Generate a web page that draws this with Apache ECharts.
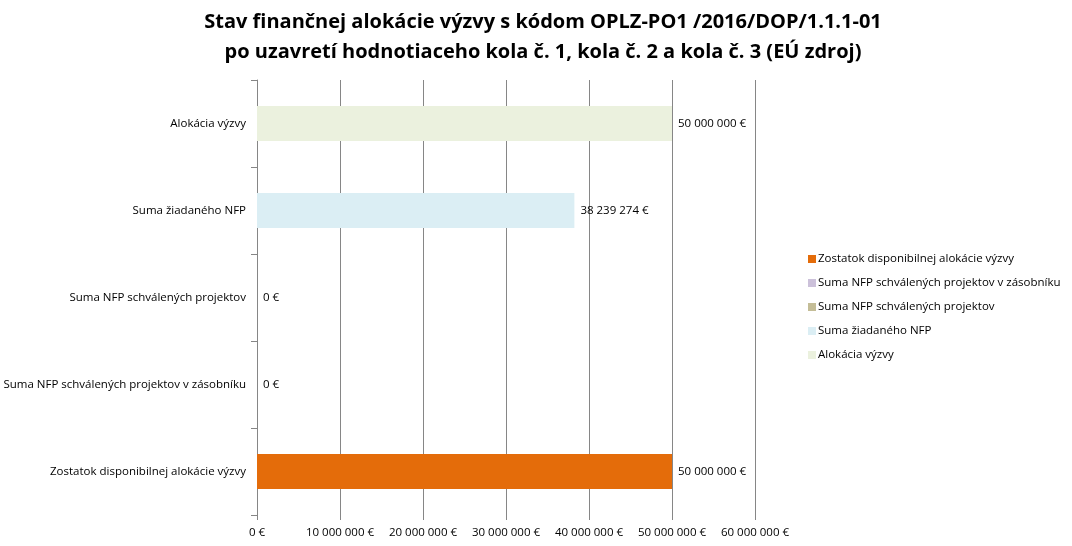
<!DOCTYPE html>
<html><head><meta charset="utf-8">
<script src="https://cdn.jsdelivr.net/npm/echarts@6/dist/echarts.min.js"></script>
<style>html,body{margin:0;padding:0;background:#fff}#c{width:1072px;height:546px}</style>
</head><body><div id="c"></div>
<script>
const categories = ['Alokácia výzvy','Suma žiadaného NFP','Suma NFP schválených projektov','Suma NFP schválených projektov v zásobníku','Zostatok disponibilnej alokácie výzvy'];
const values = [50000000, 38239274, 0, 0, 50000000];
const colors = ['#EBF1DE','#DBEEF4','#C4BD97','#CCC1DA','#E46C0A'];
const xTicks = [0,10000000,20000000,30000000,40000000,50000000,60000000];
const legendOrder = ['Zostatok disponibilnej alokácie výzvy','Suma NFP schválených projektov v zásobníku','Suma NFP schválených projektov','Suma žiadaného NFP','Alokácia výzvy'];

function fmt(v){ return String(Math.round(v)).replace(/\B(?=(\d{3})+(?!\d))/g,' ') + ' €'; }
const FONT = 'Open Sans';
const FS = 11.5;
const series = categories.map((name,i)=>({
  name, type:'bar', stack:'s', barWidth:35,
  itemStyle:{color:colors[i]},
  data: categories.map((c,j)=> j===i ? values[i] : null),
  label:{show:true, position:'right', distance:6, formatter:p=>fmt(p.value), color:'#000', fontSize:FS, fontFamily:FONT}
}));
const chart = echarts.init(document.getElementById('c'));
chart.setOption({
  animation:false,
  title:{text:'Stav finančnej alokácie výzvy s kódom OPLZ-PO1 /2016/DOP/1.1.1-01\npo uzavretí hodnotiaceho kola č. 1, kola č. 2 a kola č. 3 (EÚ zdroj)',
    left:538, top:2, textAlign:'center',
    textStyle:{fontFamily:FONT, fontWeight:'bold', fontSize:20, lineHeight:30, color:'#000'}},
  legend:{orient:'vertical', left:803, top:246, itemWidth:8, itemHeight:8, itemGap:8, icon:'rect',
    data:legendOrder, textStyle:{fontFamily:FONT, fontSize:FS, lineHeight:16, color:'#000', padding:[0,0,0,-3]}},
  grid:{left:257, right:317, top:80, bottom:31, containLabel:false},
  xAxis:{type:'value', min:0, max:60000000, interval:10000000,
    axisLine:{show:false}, axisTick:{show:true, length:5, lineStyle:{color:'#868686'}},
    splitLine:{show:true, lineStyle:{color:'#868686'}},
    axisLabel:{formatter:v=>fmt(v), fontFamily:FONT, fontSize:FS, color:'#000', margin:12}},
  yAxis:{type:'category', inverse:true, data:categories,
    axisLine:{lineStyle:{color:'#868686'}}, axisTick:{show:true, length:6, lineStyle:{color:'#868686'}},
    axisLabel:{fontFamily:FONT, fontSize:FS, color:'#000', margin:11}},
  series
});
</script></body></html>
